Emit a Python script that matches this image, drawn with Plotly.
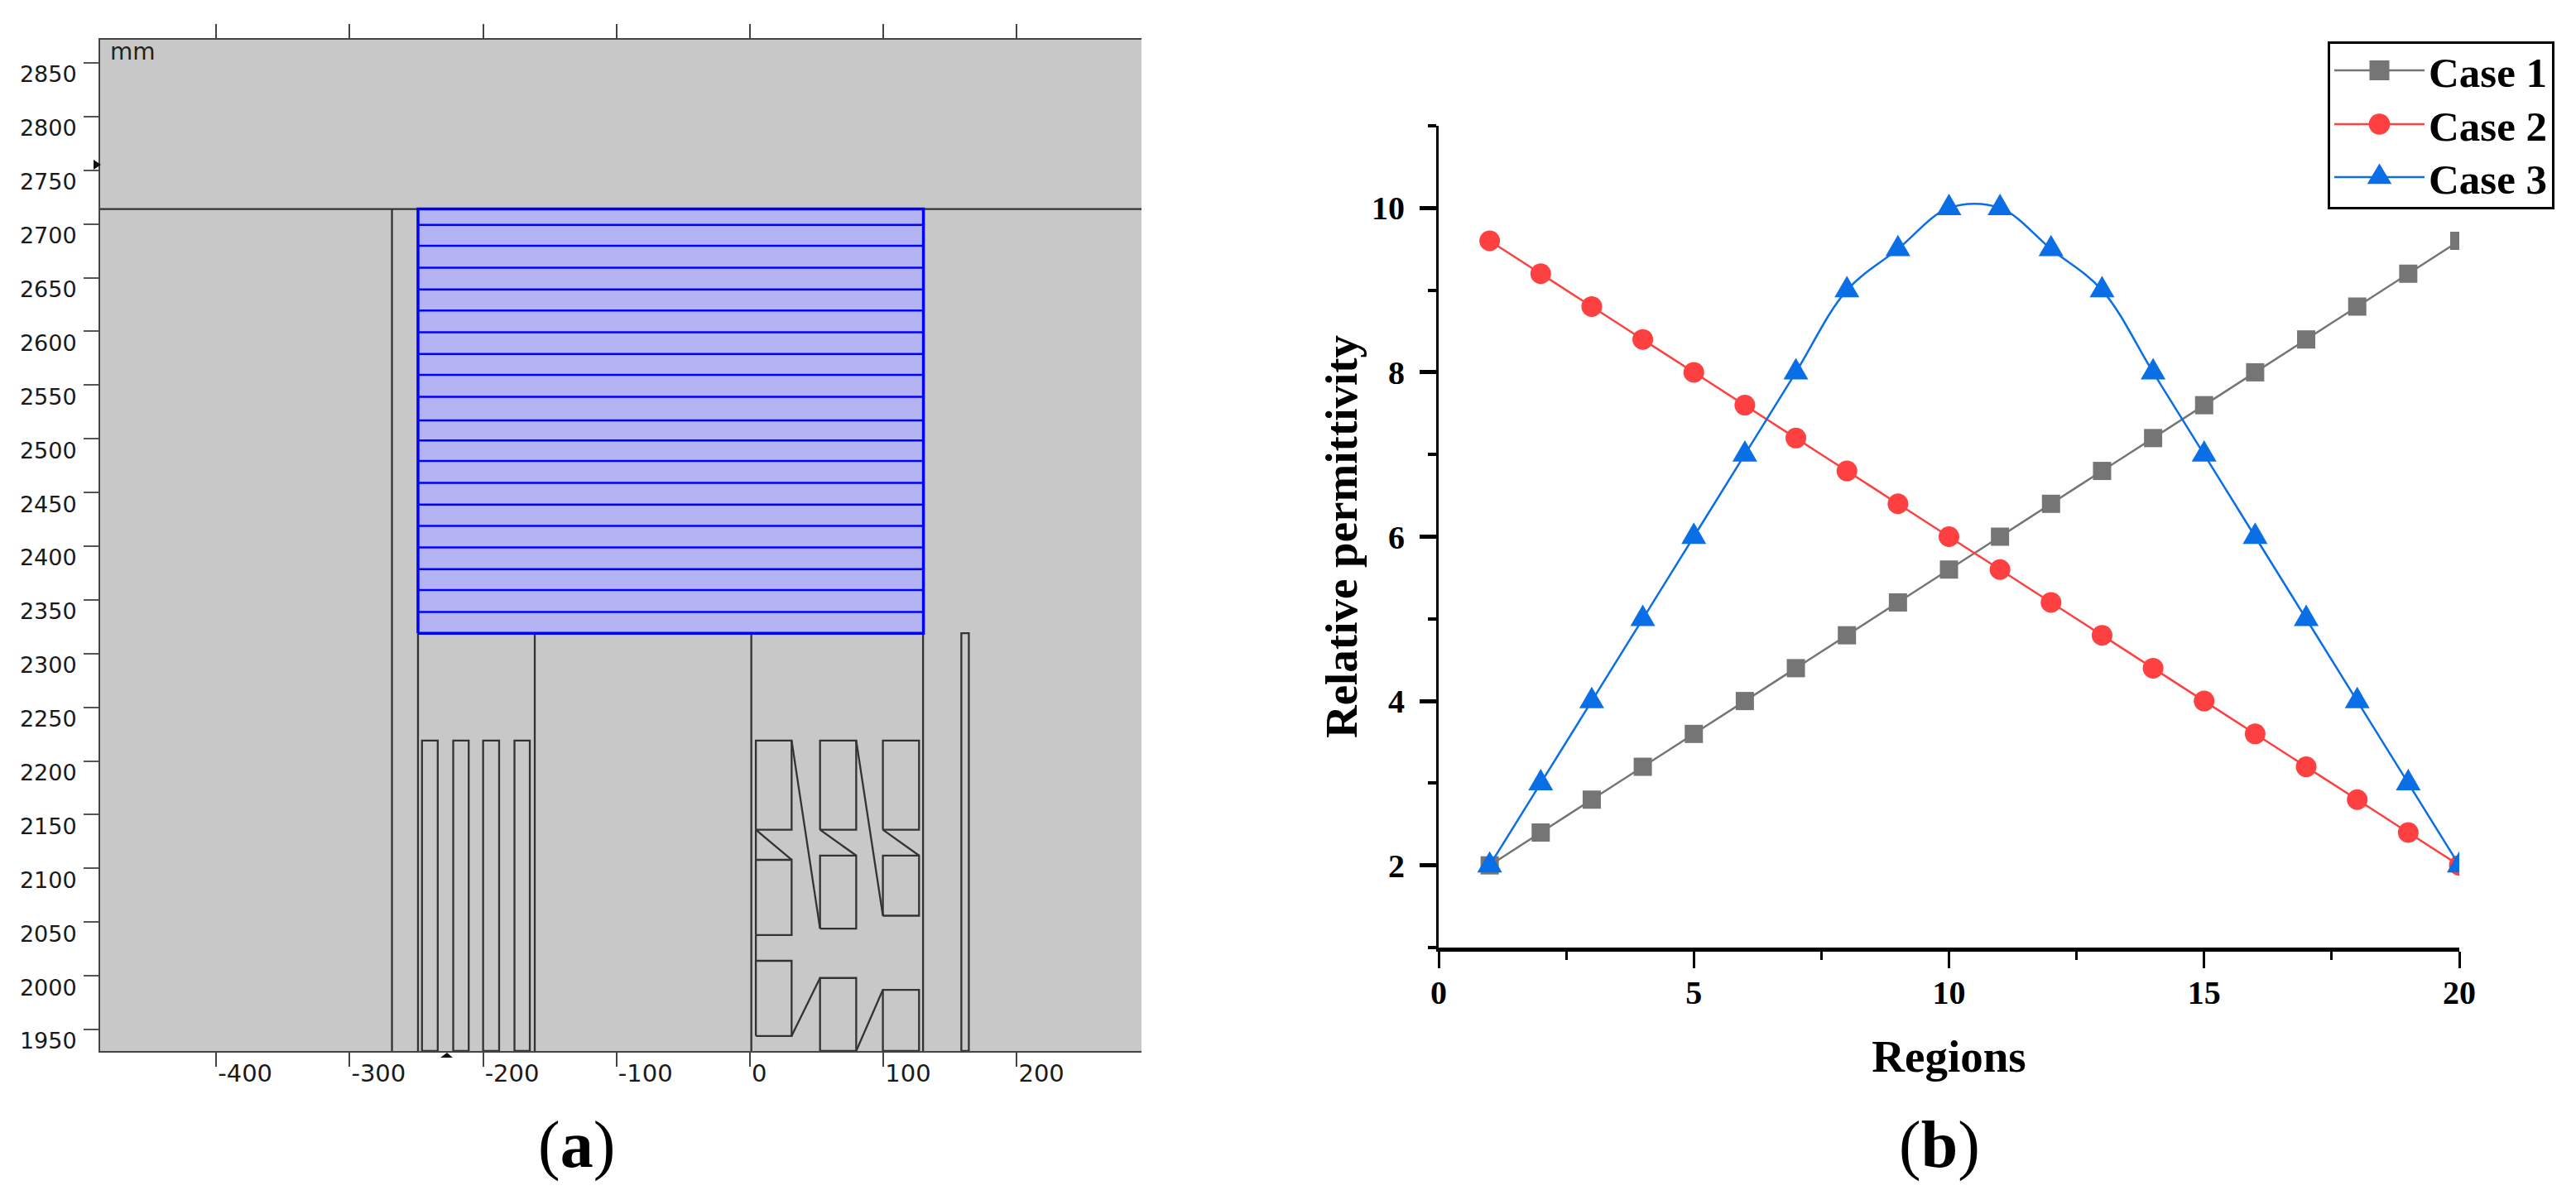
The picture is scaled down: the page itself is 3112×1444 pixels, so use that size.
import plotly.graph_objects as go

W, H = 3112, 1444

# ---------- panel (b) data ----------
regions = list(range(1, 21))
case1 = [2.0, 2.4, 2.8, 3.2, 3.6, 4.0, 4.4, 4.8, 5.2, 5.6, 6.0, 6.4, 6.8, 7.2, 7.6, 8.0, 8.4, 8.8, 9.2, 9.6]
case2 = [9.6, 9.2, 8.8, 8.4, 8.0, 7.6, 7.2, 6.8, 6.4, 6.0, 5.6, 5.2, 4.8, 4.4, 4.0, 3.6, 3.2, 2.8, 2.4, 2.0]
case3 = [2, 3, 4, 5, 6, 7, 8, 9, 9.5, 10, 10, 9.5, 9, 8, 7, 6, 5, 4, 3, 2]

# ---------- panel (a) geometry, read in mm ----------
a_xticks = [-400, -300, -200, -100, 0, 100, 200]
a_xlabels = ["-400", "-300", "-200", "-100", "0", "100", "200"]
a_yticks = list(range(1950, 2851, 50))
a_xrange = [-487, 293.4]
a_yrange = [1930, 2871.6]
blue_left, blue_right, blue_top, blue_bottom = -248.8, 130, 2714, 2319
blue_lines = [2699.1, 2679.7, 2659.3, 2639, 2619.5, 2599.3, 2578.9, 2559.6, 2539.1, 2517.1, 2498.5, 2479.4,
              2459, 2438.8, 2419, 2398.8, 2378.6, 2359.2, 2338.8]
horizontal_y = 2714
tall_verticals = [(-268.3, 1930, 2714), (-248.8, 1930, 2319), (-161.3, 1930, 2319), (1, 1930, 2319), (129.7, 1930, 2319)]
thin_rect = [(158.4, 164.0, 1930, 2319)]
narrow_rects = [(-245.8, -234, 1930, 2219), (-222.4, -210.8, 1930, 2219), (-200, -188, 1930, 2219), (-176.5, -165, 1930, 2219)]
coil_rects = [(4.4, 31.2, 2136, 2219), (4.4, 31.2, 2038, 2108), (4.4, 31.2, 1944, 2014),
              (52.5, 79.6, 2136, 2219), (52.5, 79.6, 2044, 2112), (52.5, 79.6, 1930, 1998),
              (99.6, 126.7, 2136, 2219), (99.6, 126.7, 2056, 2112), (99.6, 126.7, 1930, 1987)]
coil_links = [((4.4, 2136), (31.2, 2108)), ((31.2, 1944), (52.5, 1998)), ((31.2, 2219), (52.5, 2044)),
              ((52.5, 2136), (79.6, 2112)), ((79.6, 1930), (99.6, 1987)), ((79.6, 2219), (99.6, 2056)),
              ((99.6, 2136), (126.7, 2112)), ((4.4, 2014), (4.4, 2038)), ((4.4, 2108), (4.4, 2136))]

GRAY, RED, BLUE = "#757575", "#ff4040", "#0a6fe6"
SERIF = "Liberation Serif"
fig = go.Figure()

# --- panel (a): black geometry ---
lx, ly = [a_xrange[0], a_xrange[1], None], [horizontal_y, horizontal_y, None]
for x, y0, y1 in tall_verticals:
    lx += [x, x, None]; ly += [y0, y1, None]
for x0, x1, y0, y1 in thin_rect + narrow_rects + coil_rects:
    lx += [x0, x0, x1, x1, x0, None]; ly += [y0, y1, y1, y0, y0, None]
for (x0, y0), (x1, y1) in coil_links:
    lx += [x0, x1, None]; ly += [y0, y1, None]
fig.add_trace(go.Scatter(x=lx, y=ly, mode="lines", line=dict(color="#333333", width=2.3),
                         hoverinfo="skip", showlegend=False, xaxis="x", yaxis="y"))
# --- panel (a): blue stack ---
fig.add_trace(go.Scatter(x=[blue_left, blue_right, blue_right, blue_left, blue_left],
                         y=[blue_bottom, blue_bottom, blue_top, blue_top, blue_bottom],
                         mode="lines", fill="toself", fillcolor="#b4b4f2",
                         line=dict(color="#0000ff", width=3.5), hoverinfo="skip", showlegend=False,
                         xaxis="x", yaxis="y"))
bx, by = [], []
for y in blue_lines:
    bx += [blue_left, blue_right, None]; by += [y, y, None]
fig.add_trace(go.Scatter(x=bx, y=by, mode="lines", line=dict(color="#0000ff", width=2.5),
                         hoverinfo="skip", showlegend=False, xaxis="x", yaxis="y"))

# --- panel (b) ---
series = [("Case 1", case1, GRAY, "square", 22), ("Case 2", case2, RED, "circle", 25), ("Case 3", case3, BLUE, "triangle-up", 26)]
for name, vals, col, sym, sz in series:
    fig.add_trace(go.Scatter(x=regions, y=vals, name=name, mode="lines+markers",
                             line=dict(color=col, width=2.5, shape="spline", smoothing=1.0),
                             marker=dict(symbol=sym, size=sz, color=col), xaxis="x2", yaxis="y2"))

def ann(text, px, py, size, font=SERIF, rot=0, color="black", xanchor="center"):
    return dict(text=text, x=px / W, y=1 - py / H, xref="paper", yref="paper", showarrow=False,
                font=dict(family=font, size=size, color=color), textangle=rot, xanchor=xanchor, yanchor="middle")

def tri(points):
    path = "M" + " L".join(f"{px / W:.5f},{1 - py / H:.5f}" for px, py in points) + " Z"
    return dict(type="path", path=path, xref="paper", yref="paper", fillcolor="#111111", line=dict(width=0))

fig.update_layout(
    width=W, height=H, margin=dict(l=0, r=0, t=0, b=0), autosize=False,
    paper_bgcolor="white", plot_bgcolor="white",
    shapes=[dict(type="rect", xref="x domain", yref="y domain", x0=0, x1=1, y0=0, y1=1,
                 fillcolor="#c8c8c8", line=dict(width=0), layer="below"),
            tri([(113, 193), (122, 199), (113, 205)]),   # view-centre pointer on the left edge
            tri([(532, 1278), (540, 1272), (547, 1278)])],  # view-centre pointer below the axis
    xaxis=dict(domain=[121 / W, 1379 / W], range=a_xrange, tickvals=a_xticks, ticktext=a_xlabels, ticks="outside", ticklen=17, tickwidth=2,
               tickcolor="#444444", showline=True, linecolor="#444444", linewidth=2, mirror="allticks", showgrid=False,
               zeroline=False, ticklabelposition="outside right", automargin=False,
               tickfont=dict(family="DejaVu Sans", size=29, color="#1a1a1a"), anchor="y"),
    yaxis=dict(domain=[1 - 1270 / H, 1 - 48 / H], range=a_yrange, tickvals=a_yticks, ticks="outside", ticklen=18, tickwidth=2,
               tickcolor="#555555", showline=True, linecolor="#444444", linewidth=2, showgrid=False, zeroline=False,
               ticklabelposition="outside bottom", ticklabelstandoff=21, ticklabelshift=-6, automargin=False,
               tickfont=dict(family="DejaVu Sans", size=27, color="#1a1a1a"), anchor="x"),
    xaxis2=dict(domain=[1738 / W, 2971 / W], range=[0, 20], dtick=5, tick0=0, ticks="outside", ticklen=20, tickwidth=3,
                tickcolor="black", showline=True, linecolor="black", linewidth=5, showgrid=False, zeroline=False,
                minor=dict(dtick=2.5, ticks="outside", ticklen=10, tickwidth=3, tickcolor="black", showgrid=False),
                ticklabelstandoff=-5, automargin="height",
                tickfont=dict(family=SERIF, size=40, color="black", weight="bold"), anchor="y2",
                title=dict(text="<b>Regions</b>", font=dict(family=SERIF, size=55, color="black"), standoff=37)),
    yaxis2=dict(domain=[1 - 1145 / H, 1 - 152 / H], range=[1, 11], dtick=2, tick0=0, ticks="outside", ticklen=20, tickwidth=5,
                tickcolor="black", showline=True, linecolor="black", linewidth=3, showgrid=False, zeroline=False,
                minor=dict(dtick=1, ticks="outside", ticklen=10, tickwidth=4, tickcolor="black", showgrid=False),
                ticklabelstandoff=10, automargin="width",
                tickfont=dict(family=SERIF, size=40, color="black", weight="bold"), anchor="x2",
                title=dict(text="<b>Relative permittivity</b>", font=dict(family=SERIF, size=55, color="black"), standoff=0)),
    legend=dict(x=2812 / W, y=1 - 50 / H, xanchor="left", yanchor="top", bgcolor="white", bordercolor="black", borderwidth=3,
                font=dict(family=SERIF, size=51, color="black", weight="bold"), itemwidth=109, tracegroupgap=0,
                traceorder="normal", itemclick=False, itemdoubleclick=False),
    annotations=[
        ann("mm", 131, 62, 28, font="DejaVu Sans", color="#222222", xanchor="left"),
        ann("(<b>a</b>)", 696, 1383, 80),
        ann("(<b>b</b>)", 2343, 1383, 80),
    ],
)

post = """
document.body.style.margin='0';document.body.style.overflow='hidden';
var gd=document.querySelector('.js-plotly-plot');
var scales=['scale(1.5)','scale(1.6)','scale(1.6,2.05)'];
var rows=[35,100,164];
gd.querySelectorAll('.legend .traces').forEach(function(tr,i){
  tr.querySelectorAll('path.scatterpts').forEach(function(p){
    p.setAttribute('transform',(p.getAttribute('transform')||'')+' '+scales[i]);});
  var m=/translate\\(([^,]+),/.exec(tr.getAttribute('transform'));
  tr.setAttribute('transform','translate('+m[1]+','+rows[i]+')');
});
var bg=gd.querySelector('.legend rect.bg');bg.setAttribute('height',200);
var traces=gd.querySelectorAll('.cartesianlayer .scatterlayer .trace');
traces[traces.length-1].querySelectorAll('.points path').forEach(function(p){
  p.setAttribute('transform',(p.getAttribute('transform')||'')+' scale(1,1.33)');});
"""
fig.write_html("out.html", post_script=post, config=dict(displayModeBar=False))
